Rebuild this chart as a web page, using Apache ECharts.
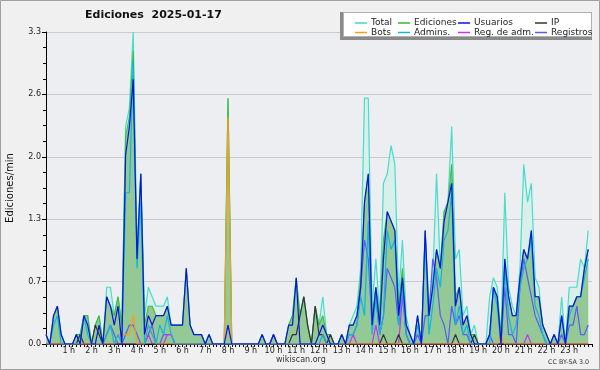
<!DOCTYPE html>
<html><head><meta charset="utf-8">
<script src="https://cdn.jsdelivr.net/npm/echarts@6/dist/echarts.min.js"></script>
<style>html,body{margin:0;padding:0;background:#f0f0f0;}#c{width:600px;height:370px;}</style>
</head><body><div id="c"></div>
<script>
const hourLabels = ['', '1 h', '2 h', '3 h', '4 h', '5 h', '6 h', '7 h', '8 h', '9 h', '10 h', '11 h', '12 h',
  '13 h', '14 h', '15 h', '16 h', '17 h', '18 h', '19 h', '20 h', '21 h', '22 h', '23 h', ''];
const yTickStep = 0.66;
const slotMinutes = 10;
const seriesNames = ['Total', 'Ediciones', 'Usuarios', 'IP', 'Bots', 'Admins.', 'Reg. de adm.', 'Registros'];

const total = [
  0.1,0,0.3,0.4,0.1,0,  0,0,0.1,0.1,0.3,0.3,  0,0.2,0.3,0,0.6,0.6,  0.3,0.5,0.2,2.3,2.5,3.3,
  1.0,1.8,0.3,0.6,0.5,0.4,  0.4,0.4,0.5,0.2,0.2,0.2,  0.2,0.8,0.2,0.1,0.1,0.1,  0,0.1,0,0,0,0,
  2.6,0,0,0,0,0,  0,0,0,0.1,0,0,  0.1,0,0,0,0.2,0.3,  0.7,0.3,0.5,0.2,0,0.4,
  0.2,0.5,0.1,0.1,0,0,  0.1,0,0.2,0.3,0.4,0.8,  2.6,2.6,0.4,0.9,0.3,1.7,  1.8,2.1,1.9,0.5,1.1,0.3,
  0.1,0,0.3,0,1.2,0.4,  0.7,1.8,0.8,1.4,1.5,2.3,  0.9,1.0,0.3,0.4,0.1,0.2,  0,0,0,0.5,0.7,0.6,
  0.1,1.6,0.6,0.4,0.3,0.8,  1.9,1.5,1.7,0.7,0.6,0.2,  0.1,0,0.1,0,0.5,0,  0.6,0.6,0.6,0.9,0.8,1.2
];
const ediciones = [
  0.1,0,0.3,0.4,0.1,0,  0,0,0.1,0.1,0.3,0.3,  0,0.2,0.3,0,0.5,0.4,  0.3,0.5,0.2,2.2,2.4,3.1,
  0.9,1.8,0.2,0.4,0.4,0.3,  0.3,0.3,0.4,0.2,0.2,0.2,  0.2,0.8,0.2,0.1,0.1,0.1,  0,0.1,0,0,0,0,
  2.6,0,0,0,0,0,  0,0,0,0.1,0,0,  0.1,0,0,0,0.2,0.3,  0.7,0.3,0.5,0.2,0,0.4,
  0.2,0.3,0.1,0.1,0,0,  0.1,0,0.2,0.2,0.3,0.7,  1.5,1.8,0.3,0.6,0.3,1.1,  1.4,1.3,1.2,0.4,0.8,0.2,
  0.1,0,0.3,0,1.2,0.3,  0.6,1.0,0.8,1.4,1.5,1.9,  0.5,0.6,0.2,0.3,0.1,0.1,  0,0,0,0.1,0.6,0.5,
  0.1,0.9,0.5,0.3,0.3,0.7,  1.0,0.9,1.2,0.5,0.5,0.2,  0.1,0,0.1,0,0.3,0,  0.4,0.4,0.5,0.5,0.8,1.0
];
const usuarios = [
  0.1,0,0.3,0.4,0.1,0,  0,0,0.1,0,0.3,0.2,  0,0,0.2,0,0.5,0.4,  0.2,0.4,0,2.0,2.3,2.8,
  0.9,1.8,0.1,0.3,0.2,0.3,  0.3,0.3,0.4,0.2,0.2,0.2,  0.2,0.8,0.2,0.1,0.1,0.1,  0,0.1,0,0,0,0,
  0.2,0,0,0,0,0,  0,0,0,0.1,0,0,  0.1,0,0,0,0.2,0.2,  0.7,0,0,0,0,0,
  0.1,0.2,0.1,0,0,0,  0.1,0,0.2,0.2,0.3,0.6,  1.5,1.8,0.2,0.6,0.2,0.9,  1.4,1.3,1.2,0.3,0.7,0.2,
  0.1,0,0.3,0,1.2,0.3,  0.6,1.0,0.8,1.3,1.5,1.7,  0.4,0.6,0.2,0.3,0.1,0,  0,0,0,0.1,0.6,0.5,
  0,0.9,0.5,0.3,0.3,0.7,  1.0,0.9,1.2,0.5,0.5,0.2,  0.1,0,0.1,0,0.3,0,  0.4,0.4,0.5,0.5,0.8,1.0
];
const ip = [
  0,0,0,0,0,0,  0,0,0,0.1,0,0,  0,0.2,0.1,0,0,0,  0,0,0,0,0,0,
  0,0,0,0,0,0,  0,0,0,0,0,0,  0,0,0,0,0,0,  0,0,0,0,0,0,
  0,0,0,0,0,0,  0,0,0,0,0,0,  0,0,0,0,0,0.1,  0.1,0.3,0.5,0.2,0,0.4,
  0.1,0.1,0,0.1,0,0,  0,0,0,0,0,0,  0,0,0,0,0,0.1,  0,0,0,0.1,0,0,
  0,0,0,0,0,0,  0,0,0,0,0,0,  0.1,0,0,0,0,0.1,  0,0,0,0,0,0,
  0,0,0,0,0,0,  0,0,0,0,0,0,  0,0,0,0,0,0,  0,0,0,0,0,0
];
const bots = [
  0,0,0,0,0,0,  0,0,0,0,0,0,  0,0,0,0,0,0,  0,0.1,0.1,0.1,0.1,0.3,
  0,0,0,0.2,0.1,0,  0,0,0,0,0,0,  0,0,0,0,0,0,  0,0,0,0,0,0,
  2.4,0,0,0,0,0,  0,0,0,0,0,0,  0,0,0,0,0,0,  0,0,0,0,0,0,
  0,0,0,0,0,0,  0,0,0,0,0,0,  0,0,0,0,0,0,  0,0,0,0,0,0,
  0,0,0,0,0,0,  0,0,0,0,0,0,  0,0,0,0,0,0,  0,0,0,0,0,0,
  0.1,0,0,0,0,0,  0,0,0,0,0,0,  0,0,0,0,0,0,  0,0,0,0,0,0
];
const admins = [
  0,0,0.2,0.3,0,0,  0,0,0,0,0.3,0.1,  0,0,0,0,0.1,0.2,  0,0.1,0,1.6,1.6,3.0,
  0.8,1.5,0,0.2,0.1,0,  0.2,0.1,0.3,0.1,0,0,  0,0,0,0,0,0,  0,0,0,0,0,0,
  0,0,0,0,0,0,  0,0,0,0,0,0,  0,0,0,0,0,0,  0,0,0,0,0,0,
  0,0.1,0,0,0,0,  0,0,0.1,0.1,0.2,0.5,  0.3,1.3,0.1,0.5,0.1,0.3,  1.2,1.0,1.1,0.2,0.6,0.1,
  0,0,0.2,0,1.1,0.1,  0.4,0.8,0.6,1.1,1.2,1.6,  0.2,0.4,0.1,0.2,0,0,  0,0,0,0,0.6,0.4,
  0,0.8,0.3,0.1,0.2,0.6,  0.8,0.9,1.1,0.4,0.3,0.1,  0,0,0.1,0,0.3,0,  0.3,0.4,0.5,0.5,0.7,0.9
];
const regAdm = [
  0,0,0,0,0,0,  0,0,0,0,0,0,  0,0,0,0,0,0,  0,0,0,0,0,0,
  0,0,0,0.1,0,0,  0,0,0.1,0.1,0,0,  0,0,0,0,0,0,  0,0,0,0,0,0,
  0,0,0,0,0,0,  0,0,0,0,0,0,  0,0,0,0,0,0,  0,0,0,0,0,0,
  0,0,0,0,0,0,  0,0,0,0.1,0,0,  0,0,0,0.2,0,0,  0,0,0,0,0.5,0.1,
  0,0,0,0,0,0,  0,0,0,0,0,0,  0,0,0,0,0,0,  0,0,0,0,0,0,
  0,0,0,0,0,0,  0,0.1,0,0,0,0,  0,0,0,0,0,0,  0,0,0,0,0,0
];
const registros = [
  0,0,0,0,0,0,  0,0,0,0,0,0,  0,0,0,0,0.1,0.2,  0.1,0,0,0.1,0.2,0.2,
  0.1,0,0,0.1,0.2,0,  0,0.1,0.1,0.1,0,0,  0,0,0,0,0,0,  0,0,0,0,0,0,
  0,0,0,0,0,0,  0,0,0,0,0,0,  0.1,0,0,0,0,0,  0,0,0,0,0,0,
  0,0,0,0,0,0,  0,0,0.1,0.1,0.2,0.6,  1.1,0.9,0.2,0.5,0.1,0.3,  0.8,0.7,0.6,0.2,0.6,0.1,
  0,0,0.1,0,0.3,0.3,  0.9,0.7,0.3,0.2,0,0.4,  0.2,0.3,0.1,0.1,0,0,  0,0,0,0.1,0,0,
  0,0.6,0.1,0.1,0,0.6,  0.9,0.7,0.5,0.3,0.2,0.1,  0,0,0,0,0.1,0,  0.2,0.2,0.4,0.1,0.1,0.2
];

const colors = {
  'Total': '#3fd6c6', 'Ediciones': '#33b833', 'Usuarios': '#0a14dc', 'IP': '#333333',
  'Bots': '#ff9a1a', 'Admins.': '#12b4e0', 'Reg. de adm.': '#c832e8', 'Registros': '#5a5af5'
};
const pts = arr => arr.map((v, i) => [i * slotMinutes, v]);
const FONT = 'DejaVu Sans';

function lineSeries(name, arr, extra) {
  return Object.assign({
    name, type: 'line', data: pts(arr), showSymbol: false, symbol: 'none',
    color: colors[name], lineStyle: { width: 1.2, color: colors[name] }, animation: false
  }, extra || {});
}

const series = [
  lineSeries('Total', total, { areaStyle: { color: '#d8efea', opacity: 1 }, lineStyle: { width: 1.2, color: '#48dccb' } }),
  lineSeries('Ediciones', ediciones, { areaStyle: { color: '#93c995', opacity: 1 }, lineStyle: { width: 1.1, color: '#3dbb3d' } }),
  lineSeries('Registros', registros),
  lineSeries('Reg. de adm.', regAdm),
  lineSeries('IP', ip),
  lineSeries('Bots', bots),
  lineSeries('Admins.', admins),
  lineSeries('Usuarios', usuarios)
];

const legendBase = {
  orient: 'vertical', top: 13, itemGap: -0.5, itemWidth: 12, itemHeight: 1.5, icon: 'rect',
  itemStyle: { borderWidth: 0 }, z: 10,
  textStyle: { fontFamily: FONT, fontSize: 9, lineHeight: 10, color: '#222', padding: [0, 0, 0, -1] },
  selectedMode: false
};
const legendCols = [[seriesNames[0], seriesNames[4]], [seriesNames[1], seriesNames[5]],
                    [seriesNames[2], seriesNames[6]], [seriesNames[3], seriesNames[7]]];
const legendLefts = [350, 393, 453, 530];

const chart = echarts.init(document.getElementById('c'), null, { renderer: 'canvas' });
chart.setOption({
  backgroundColor: '#f0f0f0',
  animation: false,
  title: {
    text: 'Ediciones  2025-01-17', left: 85, top: 10, padding: 0,
    textStyle: { fontFamily: FONT, fontSize: 11, fontWeight: 'bold', color: '#111' }
  },
  legend: legendCols.map((d, k) => Object.assign({}, legendBase, { data: d, left: legendLefts[k] })),
  grid: { left: 46, right: 8, top: 32, bottom: 26, show: true, backgroundColor: '#eceef1', borderWidth: 0,
          containLabel: false, outerBoundsMode: 'none' },
  xAxis: {
    type: 'value', min: 0, max: 24 * 60, interval: 60,
    axisLine: { show: true, lineStyle: { color: '#000', width: 1 } },
    axisTick: { show: true, length: 3, lineStyle: { color: '#000' } },
    minorTick: { show: true, splitNumber: 6, length: 3, lineStyle: { color: '#000' } },
    splitLine: { show: false },
    axisLabel: {
      margin: 3, fontFamily: FONT, fontSize: 8, color: '#222',
      formatter: v => hourLabels[Math.round(v / 60)] || ''
    }
  },
  yAxis: {
    type: 'value', min: 0, max: yTickStep * 5, interval: yTickStep,
    name: 'Ediciones/min', nameLocation: 'middle', nameGap: 31,
    nameTextStyle: { fontFamily: FONT, fontSize: 10, color: '#111' },
    axisLine: { show: true, lineStyle: { color: '#000', width: 1 } },
    axisTick: { show: true, length: 4, lineStyle: { color: '#000' } },
    minorTick: { show: true, splitNumber: 4, length: 3, lineStyle: { color: '#000' } },
    splitLine: { show: true, lineStyle: { color: '#c9cacc', width: 1 } },
    axisLabel: { margin: 5, fontFamily: FONT, fontSize: 8, color: '#222', formatter: v => v.toFixed(1) }
  },
  graphic: [
    { type: 'rect', shape: { x: 0.5, y: 0.5, width: 599, height: 369 }, style: { fill: 'none', stroke: '#a0a0a0', lineWidth: 1 }, z: 1 },
    { type: 'rect', shape: { x: 340, y: 12, width: 252, height: 28 }, style: { fill: '#8a8a8a' }, z: 8 },
    { type: 'rect', shape: { x: 343.5, y: 12.5, width: 248, height: 24 }, style: { fill: '#ffffff', stroke: '#b0b0b0', lineWidth: 1 }, z: 9 },
    { type: 'text', left: 276, top: 356, style: { text: 'wikiscan.org', font: '8px "DejaVu Sans"', fill: '#333' }, z: 5 },
    { type: 'text', left: 548, top: 359, style: { text: 'CC BY-SA 3.0', font: '6.4px "DejaVu Sans"', fill: '#333' }, z: 5 }
  ],
  series
});
</script>
</body></html>
